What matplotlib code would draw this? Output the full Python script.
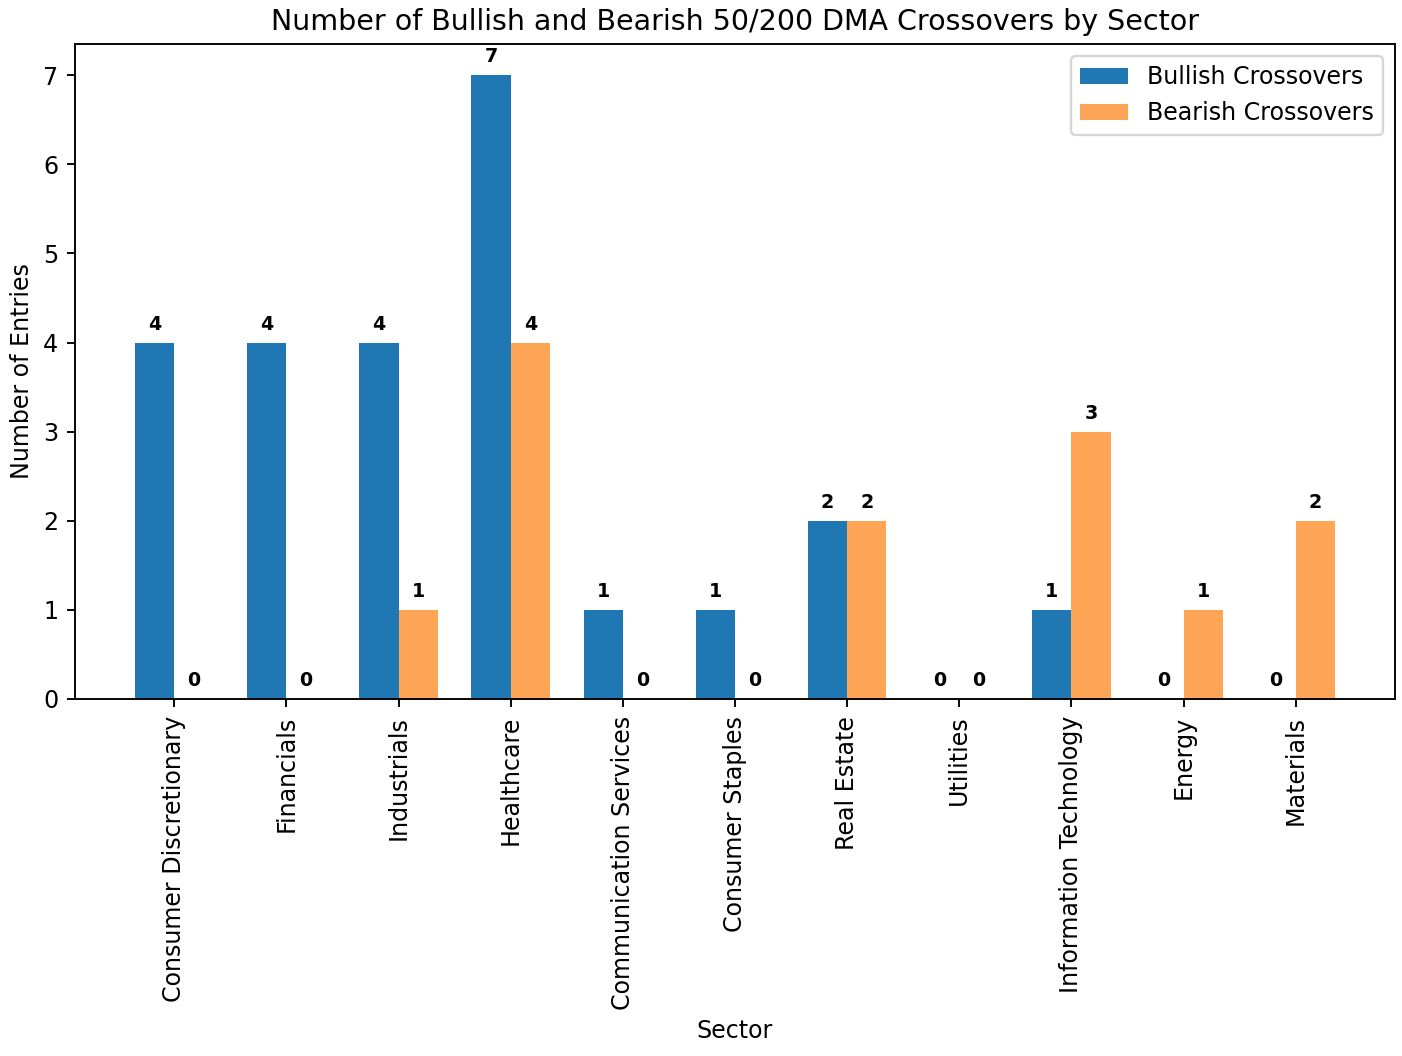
import numpy as np
import matplotlib.pyplot as plt

sectors = ['Consumer Discretionary', 'Financials', 'Industrials', 'Healthcare',
           'Communication Services', 'Consumer Staples', 'Real Estate', 'Utilities',
           'Information Technology', 'Energy', 'Materials']
bullish = [4, 4, 4, 7, 1, 1, 2, 0, 1, 0, 0]
bearish = [0, 0, 1, 4, 0, 0, 2, 0, 3, 1, 2]

x = np.arange(len(sectors))
width = 0.35

fig, ax = plt.subplots(figsize=(1402 / 171, 1056 / 171), dpi=171)
b1 = ax.bar(x - width / 2, bullish, width, label='Bullish Crossovers', color='#1f77b4')
b2 = ax.bar(x + width / 2, bearish, width, label='Bearish Crossovers', color='#ff7f0e', alpha=0.7)

# 数值标签
for bars in (b1, b2):
    for bar in bars:
        h = bar.get_height()
        ax.text(bar.get_x() + bar.get_width() / 2, h + 0.1, str(int(h)),
                ha='center', va='bottom', fontsize=8, fontweight='bold')

ax.set_xticks(x)
ax.set_xticklabels(sectors, rotation=90)
ax.set_xlabel('Sector')
ax.set_ylabel('Number of Entries')
ax.set_title('Number of Bullish and Bearish 50/200 DMA Crossovers by Sector')
ax.legend(loc='upper right')

fig.subplots_adjust(left=75 / 1402, right=1395 / 1402, top=1 - 44 / 1056, bottom=1 - 699 / 1056)
plt.savefig('out.png')
